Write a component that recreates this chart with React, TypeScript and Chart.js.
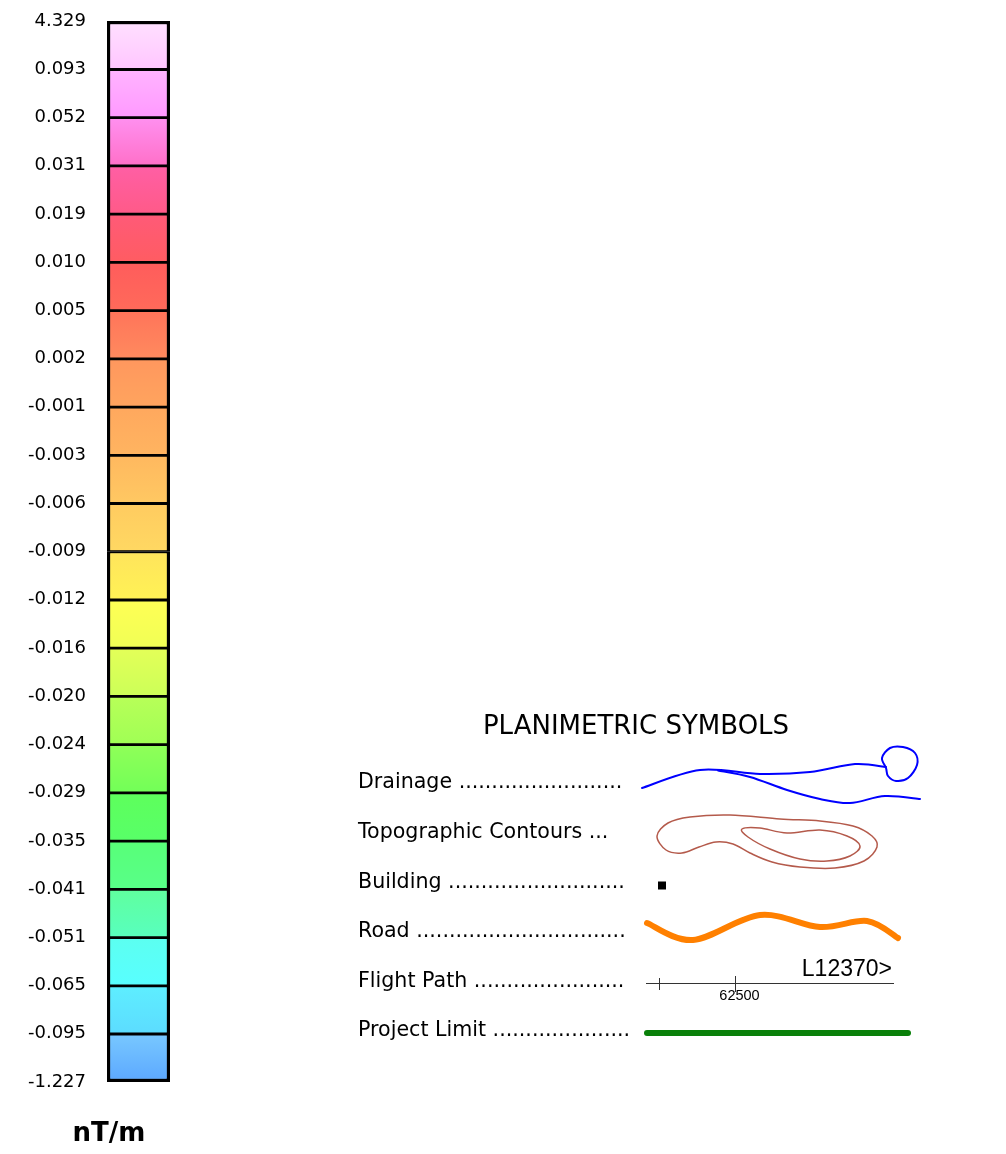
import React, { useEffect, useRef } from 'react';
import { Chart, registerables } from 'chart.js';

Chart.register(...registerables);

// Class break values of the colour bar, bottom to top
const classBreaks = [
  '-1.227', '-0.095', '-0.065', '-0.051', '-0.041', '-0.035', '-0.029', '-0.024',
  '-0.020', '-0.016', '-0.012', '-0.009', '-0.006', '-0.003', '-0.001', '0.002',
  '0.005', '0.010', '0.019', '0.031', '0.052', '0.093', '4.329',
];

// Colour of each class, bottom to top (upper edge / lower edge of the swatch)
const classTopColors = [
  '#78C8FF', '#5EEEFF', '#5CFFF0', '#60FF9E', '#58FF78', '#5EFF5C', '#90FF58', '#B8FF58',
  '#E4FF58', '#FFFF55', '#FFE45C', '#FFCB60', '#FFB85F', '#FFA85E', '#FF975E', '#FF745A',
  '#FF5C5C', '#FF5A78', '#FF5FA5', '#FF90F0', '#FFB4FF', '#FFE0FF',
];
const classBottomColors = [
  '#5CA8FF', '#5CDCFF', '#58FFFF', '#58FFBE', '#58FF88', '#58FF68', '#72FF58', '#A0FF55',
  '#CCFF58', '#F0FF55', '#FFF255', '#FFD862', '#FFC862', '#FFB460', '#FFA45E', '#FF8A5E',
  '#FF6A5A', '#FF5C62', '#FF5A88', '#FF70C8', '#FF99FF', '#FFC6FF',
];

const unitLabel = 'nT/m';
const legendTitle = 'PLANIMETRIC SYMBOLS';
const symbolLabels = [
  'Drainage .........................',
  'Topographic Contours ...',
  'Building ...........................',
  'Road ................................',
  'Flight Path .......................',
  'Project Limit .....................',
];
const flightLineLabel = 'L12370>';
const fiducialLabel = '62500';

const FONT = '"DejaVu Sans", "Liberation Sans", Arial, sans-serif';
const ARIAL = '"Liberation Sans", Arial, sans-serif';

type Pt = [number, number];

function spline(ctx: CanvasRenderingContext2D, pts: Pt[], closed: boolean) {
  const n = pts.length;
  const get = (i: number): Pt =>
    closed ? pts[(i + n) % n] : pts[Math.max(0, Math.min(n - 1, i))];
  ctx.moveTo(pts[0][0], pts[0][1]);
  const segs = closed ? n : n - 1;
  for (let i = 0; i < segs; i++) {
    const p0 = get(i - 1), p1 = get(i), p2 = get(i + 1), p3 = get(i + 2);
    ctx.bezierCurveTo(
      p1[0] + (p2[0] - p0[0]) / 6, p1[1] + (p2[1] - p0[1]) / 6,
      p2[0] - (p3[0] - p1[0]) / 6, p2[1] - (p3[1] - p1[1]) / 6,
      p2[0], p2[1],
    );
  }
  if (closed) ctx.closePath();
}

const legendPlugin = {
  id: 'planimetricLegend',
  afterDraw(chart: any) {
    const ctx: CanvasRenderingContext2D = chart.ctx;
    ctx.save();

    // unit label under the colour bar
    ctx.fillStyle = '#000';
    ctx.font = `bold 26px ${FONT}`;
    ctx.textAlign = 'center';
    ctx.textBaseline = 'middle';
    ctx.fillText(unitLabel, 109, 1134);

    // legend title
    ctx.font = `26px ${FONT}`;
    ctx.fillText(legendTitle, 636, 727);

    // legend labels
    const rowY = [783, 832.7, 882.7, 931.7, 981.7, 1031];
    ctx.font = `20.6px ${FONT}`;
    ctx.textAlign = 'left';
    symbolLabels.forEach((t, i) => ctx.fillText(t, 358, rowY[i]));

    ctx.lineCap = 'round';
    ctx.lineJoin = 'round';

    // Drainage
    ctx.strokeStyle = '#0000FF';
    ctx.lineWidth = 2;
    ctx.beginPath();
    spline(ctx, [[642, 788], [700, 770], [760, 774], [810, 772], [855, 764], [886, 767]], false);
    ctx.stroke();
    ctx.beginPath();
    spline(ctx, [[886, 768], [882, 758], [890, 748], [903, 747], [915, 753], [917, 765], [908, 778], [896, 781], [888, 776]], true);
    ctx.stroke();
    ctx.beginPath();
    spline(ctx, [[718, 770.5], [750, 777], [787, 790], [820, 799], [850, 803], [885, 796], [920, 799]], false);
    ctx.stroke();

    // Topographic contours
    ctx.strokeStyle = '#B45A4B';
    ctx.lineWidth = 1.5;
    ctx.beginPath();
    spline(ctx, [[657, 836], [668, 823], [690, 817], [730, 815], [780, 819], [820, 821], [853, 826], [872, 836], [877, 847], [864, 861], [835, 868], [800, 867], [772, 862], [750, 853], [733, 844], [716, 842], [699, 847], [682, 853], [666, 850]], true);
    ctx.stroke();
    ctx.beginPath();
    spline(ctx, [[742, 829], [760, 828], [787, 833], [820, 830], [847, 836], [860, 846], [850, 856], [827, 861], [800, 859], [770, 849], [748, 837]], true);
    ctx.stroke();

    // Building
    ctx.fillStyle = '#000';
    ctx.fillRect(658, 881.5, 8, 8);

    // Road
    ctx.strokeStyle = '#FF8000';
    ctx.lineWidth = 6;
    ctx.beginPath();
    spline(ctx, [[647, 923], [693, 940], [760, 915], [820, 927], [867, 921], [898, 938]], false);
    ctx.stroke();

    // Flight path
    ctx.strokeStyle = '#333';
    ctx.lineWidth = 1;
    ctx.lineCap = 'butt';
    ctx.beginPath();
    ctx.moveTo(646, 983.5); ctx.lineTo(894, 983.5);
    ctx.moveTo(659.5, 978); ctx.lineTo(659.5, 990);
    ctx.moveTo(735.5, 976); ctx.lineTo(735.5, 992);
    ctx.stroke();
    ctx.fillStyle = '#000';
    ctx.font = `14.5px ${ARIAL}`;
    ctx.textAlign = 'center';
    ctx.textBaseline = 'middle';
    ctx.fillText(fiducialLabel, 739.5, 996);
    ctx.font = `23px ${ARIAL}`;
    ctx.textAlign = 'right';
    ctx.textBaseline = 'alphabetic';
    ctx.fillText(flightLineLabel, 892, 976);

    // Project limit
    ctx.strokeStyle = '#0A800A';
    ctx.lineWidth = 6;
    ctx.lineCap = 'round';
    ctx.beginPath();
    ctx.moveTo(647, 1033); ctx.lineTo(908, 1033);
    ctx.stroke();

    ctx.restore();
  },
};

export default function App() {
  const ref = useRef<HTMLCanvasElement>(null);

  useEffect(() => {
    if (!ref.current) return;
    const n = classTopColors.length;
    const datasets = classTopColors.map((top, i) => ({
      label: `${classBreaks[i]} – ${classBreaks[i + 1]}`,
      data: [1],
      backgroundColor: (c: any) => {
        const chart = c.chart;
        const y = chart.scales?.y;
        if (!y || !chart.chartArea) return top;
        const y0 = y.getPixelForValue(i + 1);
        const y1 = y.getPixelForValue(i);
        const g = chart.ctx.createLinearGradient(0, y0, 0, y1);
        g.addColorStop(0, top);
        g.addColorStop(1, classBottomColors[i]);
        return g;
      },
      borderColor: '#000',
      borderWidth: {
        left: 3.5,
        right: 3.5,
        top: i === n - 1 ? 3.5 : 2,
        bottom: i === 0 ? 3.5 : 1.5,
      },
      borderSkipped: false as const,
      barPercentage: 1,
      categoryPercentage: 1,
    }));

    const chart = new Chart(ref.current, {
      type: 'bar',
      data: { labels: [''], datasets },
      options: {
        animation: false,
        responsive: true,
        maintainAspectRatio: false,
        events: [],
        layout: { padding: { left: 7, right: 836, top: 21, bottom: 72 } },
        plugins: {
          legend: { display: false },
          tooltip: { enabled: false },
          title: { display: false },
        },
        scales: {
          x: { display: false, stacked: true },
          y: {
            stacked: true,
            min: 0,
            max: n,
            position: 'left',
            grid: { display: false, drawTicks: false },
            border: { display: false },
            afterFit: (s: any) => {
              s.width = 100;
              s.paddingTop = 0;
              s.paddingBottom = 0;
            },
            ticks: {
              stepSize: 1,
              autoSkip: false,
              padding: 21,
              color: '#000',
              font: { family: FONT, size: 18 },
              callback: (v: any) => classBreaks[Math.round(Number(v))] ?? '',
            },
          },
        },
      },
      plugins: [legendPlugin],
    });
    return () => chart.destroy();
  }, []);

  return (
    <div style={{ position: 'absolute', left: 0, top: 0, width: 1006, height: 1154, background: '#fff' }}>
      <canvas ref={ref} />
    </div>
  );
}
